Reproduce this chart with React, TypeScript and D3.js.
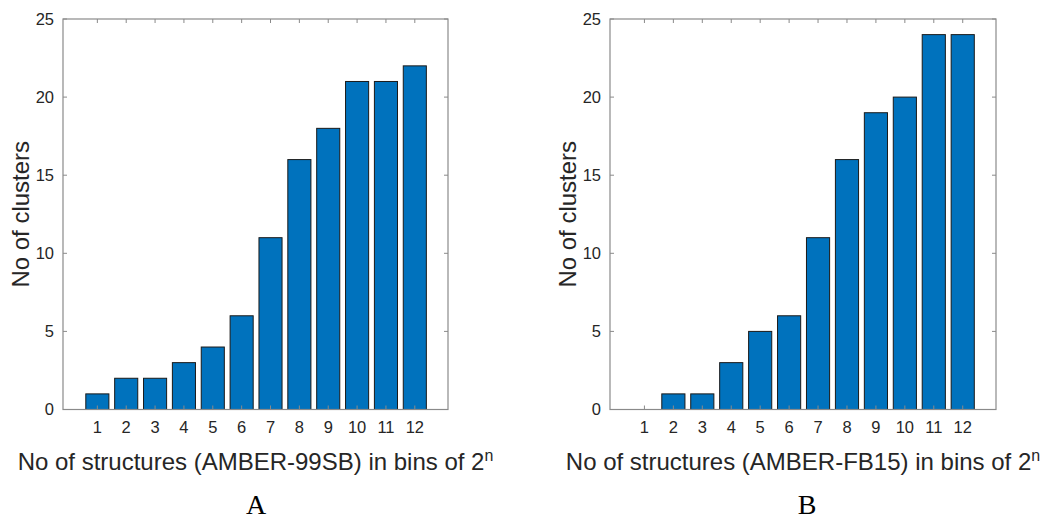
import { useEffect, useRef } from 'react';
import * as d3 from 'd3';

const bins = [1, 2, 3, 4, 5, 6, 7, 8, 9, 10, 11, 12];
const clustersA = [1, 2, 2, 3, 4, 6, 11, 16, 18, 21, 21, 22];
const clustersB = [0, 1, 1, 3, 5, 6, 11, 16, 19, 20, 24, 24];
const yTicks = [0, 5, 10, 15, 20, 25];
const forceFields = ['AMBER-99SB', 'AMBER-FB15'];
const panelLetters = ['A', 'B'];

const App = () => {
  const chartRef = useRef<SVGSVGElement>(null);

  useEffect(() => {
    if (!chartRef.current) return;
    const svg = d3.select(chartRef.current);
    svg.selectAll('*').remove();

    const axisColor = '#8a8a8a';
    const textColor = '#262626';
    const font = 'Arial, "Liberation Sans", Helvetica, sans-serif';

    // panel boxes (left, right) in page pixels
    const panels = [
      { left: 63, right: 448, data: clustersA, letterX: 256 },
      { left: 610, right: 996, data: clustersB, letterX: 807 },
    ];
    const top = 19;
    const bottom = 409.5;

    panels.forEach((p, i) => {
      const g = svg.append('g');
      // matlab pads the x range a little past 0.8..12.2
      const x = d3.scaleLinear().domain([-0.19, 13.15]).range([p.left, p.right]);
      const y = d3.scaleLinear().domain([0, 25]).range([bottom, top]);
      const barW = x(0.8) - x(0);

      // bars
      g.selectAll('.bar')
        .data(bins.map((b, k) => ({ b, v: p.data[k] })))
        .enter()
        .append('rect')
        .attr('x', d => x(d.b) - barW / 2)
        .attr('y', d => y(d.v))
        .attr('width', barW)
        .attr('height', d => bottom - y(d.v))
        .attr('fill', '#0072BD')
        .attr('stroke', '#1a1a1a')
        .attr('stroke-width', 1);

      // axes box
      g.append('rect')
        .attr('x', p.left)
        .attr('y', top)
        .attr('width', p.right - p.left)
        .attr('height', bottom - top)
        .attr('fill', 'none')
        .attr('stroke', axisColor)
        .attr('stroke-width', 1.2);

      // inner ticks on all four sides
      const tickLen = 4;
      bins.forEach(b => {
        g.append('line').attr('x1', x(b)).attr('x2', x(b))
          .attr('y1', bottom).attr('y2', bottom - tickLen)
          .attr('stroke', axisColor);
        g.append('line').attr('x1', x(b)).attr('x2', x(b))
          .attr('y1', top).attr('y2', top + tickLen)
          .attr('stroke', axisColor);
        g.append('text')
          .attr('x', x(b))
          .attr('y', 433)
          .attr('text-anchor', 'middle')
          .attr('fill', textColor)
          .style('font-family', font)
          .style('font-size', '16.5px')
          .text(b);
      });
      yTicks.forEach(t => {
        g.append('line').attr('x1', p.left).attr('x2', p.left + tickLen)
          .attr('y1', y(t)).attr('y2', y(t))
          .attr('stroke', axisColor);
        g.append('line').attr('x1', p.right).attr('x2', p.right - tickLen)
          .attr('y1', y(t)).attr('y2', y(t))
          .attr('stroke', axisColor);
        g.append('text')
          .attr('x', p.left - 9)
          .attr('y', y(t))
          .attr('dy', '0.36em')
          .attr('text-anchor', 'end')
          .attr('fill', textColor)
          .style('font-family', font)
          .style('font-size', '16.5px')
          .text(t);
      });

      // y-axis label
      g.append('text')
        .attr('transform', `translate(${p.left - 34.5},${(top + bottom) / 2}) rotate(-90)`)
        .attr('text-anchor', 'middle')
        .attr('fill', textColor)
        .style('font-family', font)
        .style('font-size', '24px')
        .text('No of clusters');

      // x-axis label with superscript n
      const xl = g.append('text')
        .attr('x', (p.left + p.right) / 2)
        .attr('y', 470)
        .attr('text-anchor', 'middle')
        .attr('fill', textColor)
        .style('font-family', font)
        .style('font-size', '24px');
      xl.append('tspan').text(`No of structures (${forceFields[i]}) in bins of 2`);
      xl.append('tspan')
        .attr('dy', -9)
        .style('font-size', '16px')
        .text('n');

      // panel letter
      g.append('text')
        .attr('x', p.letterX)
        .attr('y', 514)
        .attr('text-anchor', 'middle')
        .attr('fill', '#000')
        .style('font-family', '"Liberation Serif", "Times New Roman", serif')
        .style('font-size', '28px')
        .text(panelLetters[i]);
    });
  }, []);

  return (
    <svg
      ref={chartRef}
      width={1046}
      height={521}
      style={{ position: 'absolute', left: 0, top: 0, background: '#fff' }}
    />
  );
};

export default App;
